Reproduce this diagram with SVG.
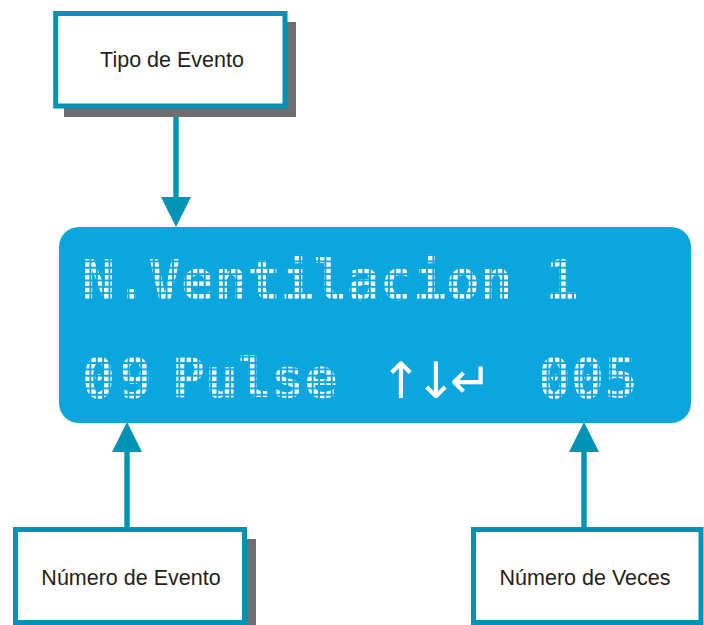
<svg xmlns="http://www.w3.org/2000/svg" width="704" height="625" viewBox="0 0 704 625">
<style>
.box{fill:#fff;stroke:#0093b5;stroke-width:5}
.shadow{fill:#6d6e71}
.label{font-family:"Liberation Sans",Arial,sans-serif;font-size:21.5px;fill:#231f20;text-anchor:middle}
.lcd{font-family:"DejaVu Sans Mono","Liberation Mono",monospace;font-weight:bold;font-size:55px;fill:url(#dots)}
.arrows{font-family:"DejaVu Sans",sans-serif;font-size:50px;fill:#fff;letter-spacing:-7px}
.conn{stroke:#0093b5;stroke-width:5.4;fill:none;marker-end:url(#head)}
</style>
<defs>
<marker id="head" viewBox="0 0 30 30" refX="0" refY="15" markerWidth="30" markerHeight="30" markerUnits="userSpaceOnUse" orient="auto">
<path d="M0,0 L30,15 L0,30 Z" fill="#0093b5"/>
</marker>
<pattern id="dots" patternUnits="userSpaceOnUse" x="85" y="256" width="6.35" height="6.35">
<rect width="4.4" height="4.4" fill="#fff"/>
</pattern>
</defs>
<g id="connectors">
<line class="conn" x1="176" y1="108" x2="176" y2="197"/>
<line class="conn" x1="127" y1="528" x2="127" y2="452"/>
<line class="conn" x1="584" y1="528" x2="584" y2="452"/>
</g>
<g id="tipo-evento">
<rect class="shadow" x="64" y="22" width="232" height="95"/>
<rect class="box" x="55.7" y="13.5" width="229.3" height="92.5"/>
<text class="label" x="172" y="67">Tipo de Evento</text>
</g>
<g id="display">
<rect x="59" y="227" width="632" height="196" rx="20" fill="#0ba6de"/>
<text class="lcd" x="82" y="299">N.Ventilacion 1</text>
<text class="lcd" y="397"><tspan x="82 119">09</tspan><tspan x="172">Pulse</tspan><tspan x="538">005</tspan></text>
<text class="arrows" x="380" y="398">↑↓↵</text>
</g>
<g id="numero-evento">
<rect class="shadow" x="25" y="539" width="231" height="95"/>
<rect class="box" x="15.5" y="529.5" width="229" height="93"/>
<text class="label" x="131" y="585">Número de Evento</text>
</g>
<g id="numero-veces">
<rect class="box" x="473.5" y="529.5" width="227.5" height="93"/>
<text class="label" x="585" y="585">Número de Veces</text>
</g>
</svg>
